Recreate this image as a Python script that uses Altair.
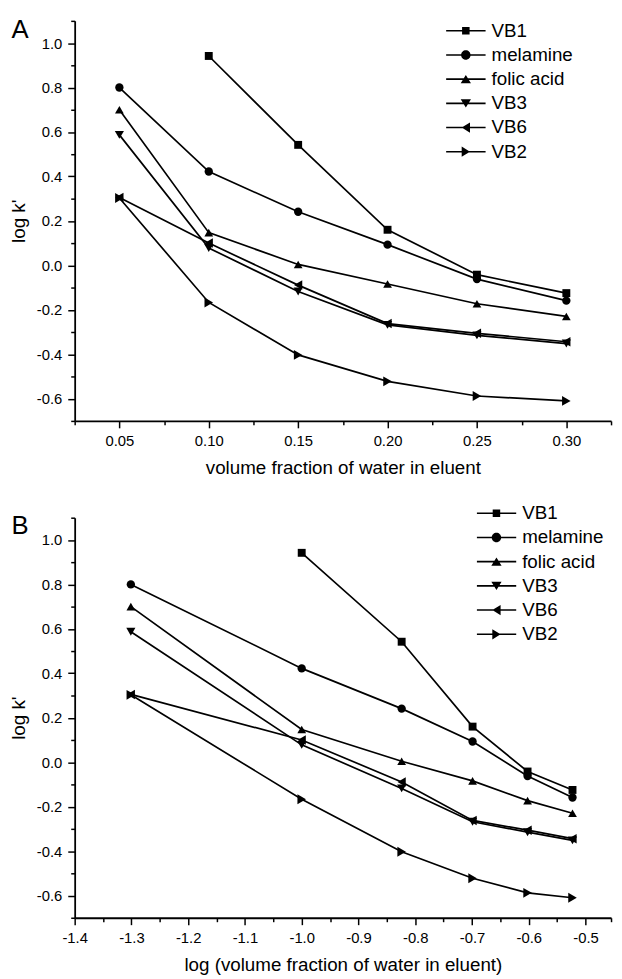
import altair as alt
import pandas as pd

# ---------------- data ----------------
water = [0.05, 0.10, 0.15, 0.20, 0.25, 0.30]
series_names = ["VB1", "melamine", "folic acid", "VB3", "VB6", "VB2"]
vb1 = [None, 0.942, 0.542, 0.160, -0.042, -0.125]
melamine = [0.800, 0.422, 0.241, 0.093, -0.062, -0.159]
folic_acid = [0.700, 0.147, 0.004, -0.084, -0.173, -0.230]
vb3 = [0.587, 0.078, -0.118, -0.268, -0.315, -0.352]
vb6 = [0.305, 0.100, -0.089, -0.262, -0.306, -0.344]
vb2 = [0.303, -0.167, -0.403, -0.522, -0.588, -0.610]

y_domain = [-0.7, 1.1]
y_major_vals = [-0.6, -0.4, -0.2, 0.0, 0.2, 0.4, 0.6, 0.8, 1.0]
y_minor_vals = [-0.7, -0.5, -0.3, -0.1, 0.1, 0.3, 0.5, 0.7, 0.9, 1.1]
xa_domain = [0.025, 0.325]
xa_major = [0.05, 0.10, 0.15, 0.20, 0.25, 0.30]
xa_minor = [0.025, 0.075, 0.125, 0.175, 0.225, 0.275, 0.325]
xb_domain = [-1.4, -0.455]
xb_major = [-1.4, -1.3, -1.2, -1.1, -1.0, -0.9, -0.8, -0.7, -0.6, -0.5]
xb_minor = [-1.35, -1.25, -1.15, -1.05, -0.95, -0.85, -0.75, -0.65, -0.55, -0.455]

marker_shapes = ["square", "circle", "triangle-up", "triangle-down",
                 "triangle-left", "triangle-right"]
marker_sizes = [64, 100, 110, 110, 110, 110]
# legend symbols: line segment + marker, all filled (unit box -1..1, 1 unit = 20px)
legend_shapes = [
    "M-1,-0.04H1V0.04H-1ZM-0.19,-0.19H0.19V0.19H-0.19Z",
    "M-1,-0.04H1V0.04H-1ZM-0.24,0A0.24,0.24 0 1,1 0.24,0A0.24,0.24 0 1,1 -0.24,0Z",
    "M-1,-0.04H1V0.04H-1ZM0,-0.21L0.26,0.21L-0.26,0.21Z",
    "M-1,-0.04H1V0.04H-1ZM-0.26,-0.21L0.26,-0.21L0,0.21Z",
    "M-1,-0.04H1V0.04H-1ZM-0.21,0L0.21,-0.26L0.21,0.26Z",
    "M-1,-0.04H1V0.04H-1ZM0.21,0L-0.21,0.26L-0.21,-0.26Z",
]

rows = []
for name, vals in zip(series_names, [vb1, melamine, folic_acid, vb3, vb6, vb2]):
    for w, v in zip(water, vals):
        if v is not None:
            rows.append({"series": name, "water": w, "logk": v})
df = pd.DataFrame(rows)

FONT = "Liberation Sans"
W, H = 543, 405
MINUS = "\u2212"


def panel(letter, xfield, xdomain, xmajor, xminor, xtitle, xfmt, leg_x, leg_y, calc=None):
    xs = alt.Scale(domain=xdomain, nice=False, zero=False)
    ys = alt.Scale(domain=y_domain, nice=False, zero=False)
    x_major = alt.X(f"{xfield}:Q", scale=xs, axis=alt.Axis(
        orient="bottom", values=xmajor, title=xtitle, tickSize=7,
        labelExpr=f"replace(format(datum.value, '{xfmt}'), '{MINUS}', '-')",
        labelFlush=False, labelOverlap=False, labelPadding=6,
        titleX=W / 2, titleY=47, titleBaseline="middle", titleAlign="center"))
    x_minor = alt.X(f"{xfield}:Q", scale=xs, axis=alt.Axis(
        orient="bottom", values=xminor, title=None, tickSize=4,
        labels=False, domain=False))
    x_none = alt.X(f"{xfield}:Q", scale=xs, axis=None)
    y_major = alt.Y("logk:Q", scale=ys, axis=alt.Axis(
        orient="left", values=y_major_vals, title="log k'", tickSize=7,
        labelExpr=f"replace(format(datum.value, '.1f'), '{MINUS}', '-')",
        labelFlush=False, labelOverlap=False, labelPadding=6,
        titleAngle=270, titleX=-57, titleY=H / 2,
        titleBaseline="middle", titleAlign="center"))
    y_minor = alt.Y("logk:Q", scale=ys, axis=alt.Axis(
        orient="left", values=y_minor_vals, title=None, tickSize=4,
        labels=False, domain=False))
    y_none = alt.Y("logk:Q", scale=ys, axis=None)

    base = alt.Chart(df)
    if calc:
        base = base.transform_calculate(**calc)
    lines = base.mark_line(color="black", strokeWidth=1.7).encode(
        x=x_major, y=y_major, detail="series:N", order=f"{xfield}:Q"
    )
    pts = base.mark_point(filled=True, color="black", opacity=1).encode(
        x=x_none, y=y_none,
        shape=alt.Shape("series:N", scale=alt.Scale(domain=series_names, range=marker_shapes), legend=None),
        size=alt.Size("series:N", scale=alt.Scale(domain=series_names, range=marker_sizes), legend=None),
    )
    leg = base.mark_point(filled=True, fill="black", color="black", opacity=0).encode(
        x=x_minor, y=y_minor,
        shape=alt.Shape(
            "series:N",
            scale=alt.Scale(domain=series_names, range=legend_shapes),
            legend=alt.Legend(
                title=None, orient="none", legendX=leg_x, legendY=leg_y,
                symbolSize=1600, symbolFillColor="black", symbolStrokeColor="black",
                symbolStrokeWidth=0, symbolOpacity=1, clipHeight=17,
                labelFont=FONT, labelFontSize=19, labelColor="black",
                labelOffset=6, rowPadding=4.5, padding=0,
            ),
        ),
    )
    letter_t = alt.Chart(pd.DataFrame({"label": [letter]})).mark_text(
        align="left", baseline="top", dx=-64, dy=-4,
        fontSize=26, font=FONT, color="black",
    ).encode(
        x=alt.XDatum(xdomain[0], type="quantitative", scale=xs, axis=None),
        y=alt.YDatum(y_domain[1], type="quantitative", scale=ys, axis=None),
        text="label:N",
    )
    return (
        alt.layer(lines, pts, leg, letter_t)
        .resolve_scale(shape="independent", size="independent")
        .resolve_axis(x="independent", y="independent")
        .properties(width=W, height=H)
    )


pa = panel("A", "water", xa_domain, xa_major, xa_minor,
           "volume fraction of water in eluent", ".2f", 376, 1.5)
pb = panel("B", "logw", xb_domain, xb_major, xb_minor,
           "log (volume fraction of water in eluent)", ".1f", 407, -13,
           calc={"logw": "log(datum.water)/LN10"})

chart = (
    alt.vconcat(pa, pb, spacing=98, bounds="flush")
    .resolve_scale(shape="independent", size="independent")
    .resolve_legend(shape="independent", size="independent")
    .properties(padding={"left": 1.5, "top": 3, "right": 2, "bottom": 0})
    .configure(font=FONT)
    .configure_view(stroke=None)
    .configure_axis(
        domainColor="black", domainWidth=1.8, tickColor="black", tickWidth=1.5,
        labelColor="black", labelFont=FONT, labelFontSize=15,
        titleFont=FONT, titleFontSize=19, titleFontWeight="normal", titleColor="black",
        grid=False,
    )
)

chart.save("out.html", embed_options={"renderer": "svg", "actions": False})
